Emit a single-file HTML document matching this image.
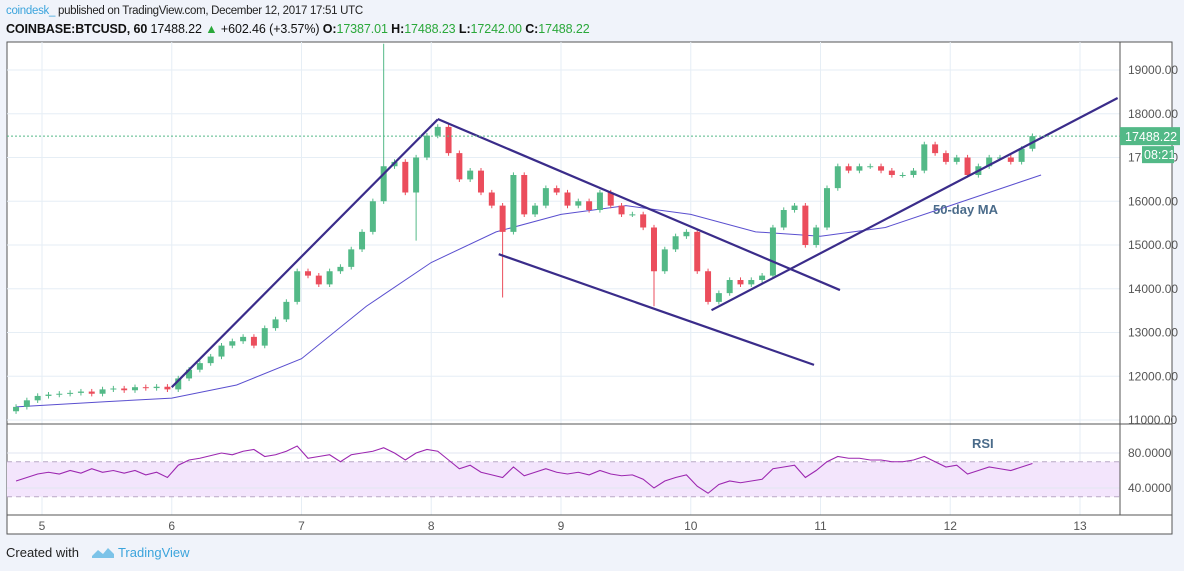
<!DOCTYPE html>
<html><head><meta charset="utf-8">
<style>
body{margin:0;width:1184px;height:571px;background:#f0f3fa;font-family:"Liberation Sans",sans-serif;overflow:hidden;position:relative}
.h1{position:absolute;left:6px;top:5px;font-size:11.5px;color:#222;letter-spacing:-0.3px}
.h2{position:absolute;left:6px;top:22px;font-size:12.5px;color:#111;font-weight:bold;letter-spacing:-0.1px}
.g{color:#2aa83a;font-weight:normal}
.foot{position:absolute;left:6px;top:545px;font-size:13px;color:#222}
</style></head><body>
<div class="h1"><span style="color:#3ba4dc">coindesk_</span> published on TradingView.com, December 12, 2017 17:51 UTC</div>
<div class="h2">COINBASE:BTCUSD, 60 <span style="font-weight:normal">17488.22</span> <span style="color:#2aa83a">▲</span> <span style="font-weight:normal">+602.46 (+3.57%)</span> O:<span class="g">17387.01</span> H:<span class="g">17488.23</span> L:<span class="g">17242.00</span> C:<span class="g">17488.22</span></div>
<svg id="c" width="1184" height="571" style="position:absolute;left:0;top:0"></svg>
<div class="foot">Created with <span style="color:#3ba4dc;margin-left:8px"><svg width="24" height="14" viewBox="0 0 24 14" style="vertical-align:-2px"><path d="M1 11 L7 5 L12 9 L17 3 L23 9 L23 13 L1 13Z" fill="#7cc3e8"/></svg> TradingView</span></div>
<script>
const closes=[11300,11450,11550,11580,11600,11620,11650,11600,11700,11720,11680,11750,11730,11760,11700,11950,12150,12300,12450,12700,12800,12900,12700,13100,13300,13700,14400,14300,14100,14400,14500,14900,15300,16000,16800,16900,16200,17000,17500,17700,17100,16500,16700,16200,15900,15300,16600,15700,15900,16300,16200,15900,16000,15800,16200,15900,15700,15700,15400,14400,14900,15200,15300,14400,13700,13900,14200,14100,14200,14300,15400,15800,15900,15000,15400,16300,16800,16700,16800,16800,16700,16600,16600,16700,17300,17100,16900,17000,16600,16800,17000,17000,16900,17200,17488.22];
const spikeIdx=[34,45,59,37];
const spikeVal=[19600,13800,13600,15100];
const rsi=[48,52,56,58,56,60,57,62,58,60,57,60,55,58,52,66,72,74,77,80,78,82,84,76,78,82,88,74,76,78,70,78,80,82,86,80,72,80,84,82,72,62,66,58,55,52,64,54,58,62,58,56,58,55,60,56,54,55,50,40,48,52,55,42,34,44,48,46,48,50,62,64,66,52,60,70,76,74,74,72,72,70,70,72,76,70,64,66,56,60,64,62,60,64,68];
const maT=[4.8,5.5,6.0,6.5,7.0,7.5,8.0,8.5,9.0,9.5,10.0,10.5,11.0,11.5,12.0,12.5,12.7];
const maV=[11300,11420,11500,11800,12400,13600,14600,15300,15700,15900,15700,15300,15200,15400,15900,16400,16600];
const trendT=[[6.0,8.05],[8.05,11.15],[8.52,10.95],[10.16,13.29]];
const trendP=[[11750,17870],[17880,13970],[14790,12260],[13510,18360]];
const priceTicks=[11000,12000,13000,14000,15000,16000,17000,18000,19000];
const dayTicks=[5,6,7,8,9,10,11,12,13];
const rsiTicks=[80,40];
const t0=4.8, step=1/12;
const X=t=>42+(t-5)*129.75, Y=p=>70+(19000-p)*0.04375, R=v=>453+(80-v)*0.875;
const L=7,RT=1120,FR=1172,TOP=42,MB=424,RB=515,BB=534;
const s=document.getElementById('c');
function el(tag,a,txt){const e=document.createElementNS('http://www.w3.org/2000/svg',tag);for(const k in a)e.setAttribute(k,a[k]);if(txt!=null)e.textContent=txt;s.appendChild(e);return e;}
let e;
e=el('rect',{x:L,y:TOP,width:FR-L,height:BB-TOP,fill:'#fff',stroke:'#555'});


priceTicks.forEach(p=>{e=el('line',{x1:L,x2:RT,y1:Y(p),y2:Y(p),stroke:'#e6eef5'});


e=el('text',{x:1128,y:Y(p)+4,'font-size':12,fill:'#555'},p.toFixed(2));

});
dayTicks.forEach(d=>{e=el('line',{x1:X(d),x2:X(d),y1:TOP,y2:RB,stroke:'#e6eef5'});


e=el('text',{x:X(d),y:530,'font-size':12,fill:'#555','text-anchor':'middle'},String(d));

});
e=el('rect',{x:L,y:R(70),width:RT-L,height:R(30)-R(70),fill:'#f3e5fc'});


[70,30].forEach(v=>{e=el('line',{x1:L,x2:RT,y1:R(v),y2:R(v),stroke:'#b9a9c6','stroke-dasharray':'5,4'});

});
rsiTicks.forEach(v=>{e=el('line',{x1:L,x2:RT,y1:R(v),y2:R(v),stroke:'#e1e6f0'});


e=el('text',{x:1128,y:R(v)+4,'font-size':12,fill:'#555'},v.toFixed(4));

});
[MB,RB].forEach(y=>{e=el('line',{x1:L,x2:FR,y1:y,y2:y,stroke:'#555'});

});
e=el('line',{x1:RT,x2:RT,y1:TOP,y2:RB,stroke:'#555'});


e=el('polyline',{points:maT.map((t,i)=>X(t)+','+Y(maV[i])).join(' '),fill:'none',stroke:'#5a4fcf','stroke-width':1});


closes.forEach((c,i)=>{const o=i?closes[i-1]:c-100;const t=t0+i*step;const x=X(t);
let hi=Math.max(o,c)+60,lo=Math.min(o,c)-60;const k=spikeIdx.indexOf(i);
if(k>=0){if(spikeVal[k]>hi)hi=spikeVal[k];else lo=spikeVal[k];}
const col=c>=o?'#53b987':'#eb4d5c';
e=el('line',{x1:x,x2:x,y1:Y(hi),y2:Y(lo),stroke:col});


const yb=Y(Math.max(o,c));e=el('rect',{x:x-3,y:yb,width:6,height:Math.max(1,Y(Math.min(o,c))-yb),fill:col});

});
trendT.forEach((tt,i)=>{e=el('line',{x1:X(tt[0]),y1:Y(trendP[i][0]),x2:X(tt[1]),y2:Y(trendP[i][1]),stroke:'#3a2c8a','stroke-width':2.2});

});
const last=closes[closes.length-1];
e=el('line',{x1:L,x2:RT,y1:Y(last),y2:Y(last),stroke:'#53b987','stroke-dasharray':'2,2'});


e=el('rect',{x:RT,y:Y(last)-9,width:60,height:18,fill:'#53b987'});


e=el('text',{x:1125,y:Y(last)+5,'font-size':12.5,fill:'#fff'},last.toFixed(2));


e=el('rect',{x:1142,y:Y(last)+10,width:32,height:17,fill:'#53b987'});


e=el('text',{x:1144,y:Y(last)+23,'font-size':12.5,fill:'#fff'},'08:21');


e=el('polyline',{points:rsi.map((v,i)=>X(t0+i*step)+','+R(v)).join(' '),fill:'none',stroke:'#9c27b0','stroke-width':1.1});


e=el('text',{x:933,y:214,'font-size':13,fill:'#4a6b8a','font-weight':'bold'},'50-day MA');


e=el('text',{x:972,y:448,'font-size':13,fill:'#4a6b8a','font-weight':'bold'},'RSI');


</script>
</body></html>
